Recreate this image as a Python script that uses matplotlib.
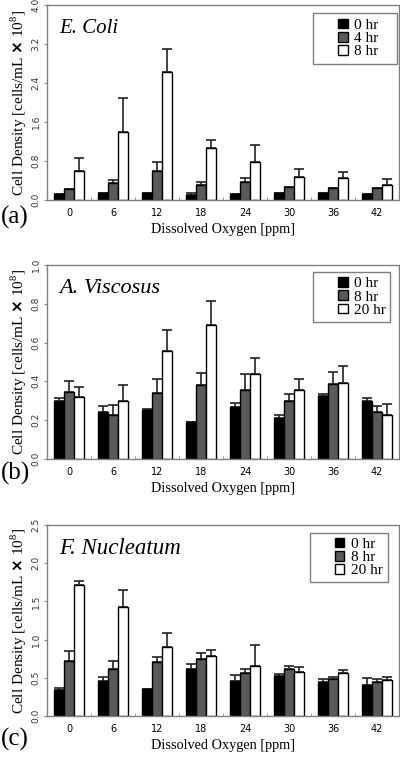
import numpy as np
import matplotlib
matplotlib.use('Agg')
import matplotlib.pyplot as plt
from matplotlib.patches import Rectangle

# Data (cells/mL x 10^8), mean and upper error bar end
oxygen = ['0', '6', '12', '18', '24', '30', '36', '42']

ecoli_0 = [0.12, 0.15, 0.15, 0.10, 0.12, 0.15, 0.15, 0.12]
ecoli_0_top = [0.12, 0.15, 0.15, 0.15, 0.12, 0.15, 0.15, 0.12]
ecoli_4 = [0.23, 0.34, 0.60, 0.31, 0.36, 0.27, 0.25, 0.25]
ecoli_4_top = [0.23, 0.41, 0.77, 0.36, 0.46, 0.27, 0.25, 0.25]
ecoli_8 = [0.60, 1.39, 2.62, 1.06, 0.77, 0.48, 0.46, 0.31]
ecoli_8_top = [0.86, 2.09, 3.10, 1.24, 1.13, 0.63, 0.57, 0.43]

visc_0 = [0.300, 0.243, 0.252, 0.190, 0.267, 0.212, 0.322, 0.298]
visc_0_top = [0.314, 0.271, 0.260, 0.190, 0.291, 0.229, 0.333, 0.314]
visc_8 = [0.347, 0.229, 0.340, 0.381, 0.357, 0.297, 0.388, 0.241]
visc_8_top = [0.400, 0.278, 0.410, 0.443, 0.436, 0.333, 0.448, 0.271]
visc_20 = [0.319, 0.298, 0.557, 0.690, 0.436, 0.357, 0.393, 0.229]
visc_20_top = [0.369, 0.381, 0.665, 0.815, 0.520, 0.410, 0.479, 0.284]

nuc_0 = [0.34, 0.46, 0.35, 0.61, 0.46, 0.52, 0.44, 0.41]
nuc_0_top = [0.36, 0.51, 0.35, 0.68, 0.53, 0.55, 0.49, 0.50]
nuc_8 = [0.72, 0.61, 0.70, 0.74, 0.56, 0.61, 0.48, 0.44]
nuc_8_top = [0.85, 0.72, 0.77, 0.82, 0.61, 0.65, 0.51, 0.49]
nuc_20 = [1.71, 1.43, 0.90, 0.79, 0.65, 0.58, 0.56, 0.47]
nuc_20_top = [1.77, 1.65, 1.09, 0.87, 0.93, 0.64, 0.60, 0.51]

serif = ['Liberation Serif', 'DejaVu Serif']
plt.rcParams['mathtext.fontset'] = 'custom'
plt.rcParams['mathtext.rm'] = 'Liberation Serif'

fig = plt.figure(figsize=(4.0, 7.57), dpi=100)

# axes rect, title, title size, legend names, series, yticks, ymax, letter, letter y, legend box
panels = [
    ([0.1175, 0.7358, 0.88, 0.2576], 'E. Coli', 15, ['0 hr', '4 hr', '8 hr'],
     [(ecoli_0, ecoli_0_top), (ecoli_4, ecoli_4_top), (ecoli_8, ecoli_8_top)],
     np.arange(0, 4.01, 0.8), 4.0, '(a)', -0.09, (0.756, 0.697, 0.238, 0.262)),
    ([0.1175, 0.3937, 0.88, 0.2563], 'A. Viscosus', 16, ['0 hr', '8 hr', '20 hr'],
     [(visc_0, visc_0_top), (visc_8, visc_8_top), (visc_20, visc_20_top)],
     np.arange(0, 1.01, 0.2), 1.0, '(b)', -0.075, (0.756, 0.706, 0.218, 0.258)),
    ([0.1175, 0.0542, 0.88, 0.2523], 'F. Nucleatum', 16.5, ['0 hr', '8 hr', '20 hr'],
     [(nuc_0, nuc_0_top), (nuc_8, nuc_8_top), (nuc_20, nuc_20_top)],
     np.arange(0, 2.51, 0.5), 2.5, '(c)', -0.125, (0.747, 0.70, 0.222, 0.258)),
]

colors = ['black', '#5a5a5a', 'white']
w = 0.227
x = np.arange(len(oxygen))

for rect, title, tsize, names, series, yticks, ymax, letter, ly, box in panels:
    ax = fig.add_axes(rect)
    for k, (vals, tops) in enumerate(series):
        vals = np.array(vals)
        err = np.array(tops) - vals
        pos = x + (k - 1) * w
        ax.bar(pos, vals, w, color=colors[k], edgecolor='black', linewidth=1.0,
               label=names[k], zorder=2)
        ax.errorbar(pos, vals, yerr=[np.zeros_like(err), err], fmt='none',
                    ecolor='#222222', elinewidth=1.2, capsize=3.5, capthick=1.2, zorder=1)
    ax.set_xlim(-0.5, 7.5)
    ax.set_ylim(0, ymax)
    ax.set_xticks(x)
    ax.set_xticklabels(oxygen, fontsize=7, family='DejaVu Sans')
    ax.set_xticks(x[:-1] + 0.5, minor=True)
    ax.tick_params(axis='x', which='major', length=0, pad=6)
    ax.tick_params(axis='x', which='minor', length=2.5, direction='in', color='#888888')
    ax.set_yticks(yticks)
    ax.set_yticklabels(['%.1f' % t for t in yticks], fontsize=6.5, rotation=90,
                       va='center', family='DejaVu Sans', color='#333333')
    ax.tick_params(axis='y', length=2.5, color='#888888', pad=2)
    for s in ax.spines.values():
        s.set_color('#7f7f7f')
        s.set_linewidth(1.0)
    ax.set_xlabel('Dissolved Oxygen [ppm]', family=serif, fontsize=10.3, labelpad=3.5)
    ax.set_ylabel(r'Cell Density [cells/mL $\mathbf{\times}$ 10$^{8}$]', family=serif,
                  fontsize=11, labelpad=2)
    ax.text(0.035, 0.93, title, transform=ax.transAxes, family=serif, style='italic',
            fontsize=tsize, va='top', ha='left')

    # legend frame drawn separately so it can be wider than its entries
    ax.add_patch(Rectangle((box[0], box[1]), box[2], box[3], transform=ax.transAxes,
                           facecolor='white', edgecolor='#7f7f7f', linewidth=1.0, zorder=3))
    leg = ax.legend(loc='center left', bbox_to_anchor=(box[0] + 0.072, box[1] + box[3] / 2),
                    prop={'family': serif, 'size': 11}, frameon=False,
                    handlelength=0.6, handleheight=0.6, handletextpad=0.4,
                    labelspacing=0.0, borderpad=0, borderaxespad=0)
    leg.set_zorder(4)
    ax.text(-0.13, ly, letter, transform=ax.transAxes, family=serif, fontsize=18,
            va='center', ha='left')

fig.savefig('out.png', dpi=100)
